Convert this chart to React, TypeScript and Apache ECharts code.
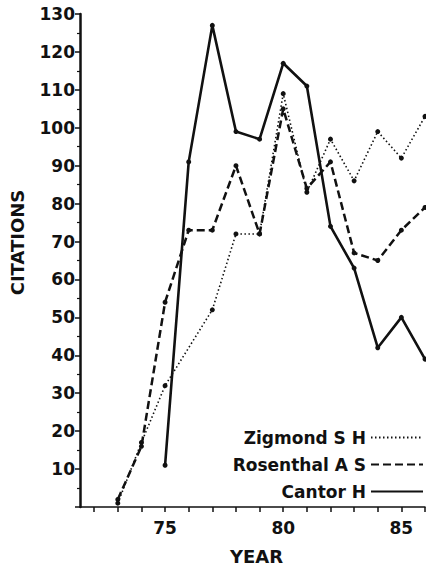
import React, { useEffect, useRef } from "react";
import * as echarts from "echarts";

const years = [73, 74, 75, 76, 77, 78, 79, 80, 81, 82, 83, 84, 85, 86];
const zigmond = [1, 17, 32, null, 52, 72, 72, 109, 83, 97, 86, 99, 92, 103];
const rosenthal = [2, 16, 54, 73, 73, 90, 72, 105, 84, 91, 67, 65, 73, 79];
const cantor = [null, null, 11, 91, 127, 99, 97, 117, 111, 74, 63, 42, 50, 39];
const xTicks = [72, 73, 74, 75, 76, 77, 78, 79, 80, 81, 82, 83, 84, 85, 86];
const xLabels = [75, 80, 85];
const seriesNames = ["Zigmond S H", "Rosenthal A S", "Cantor H"];

const FONT = "DejaVu Sans";

function pairs(vals: (number | null)[]) {
  return years.map((y, i) => [y, vals[i]]).filter((p) => p[1] !== null);
}

export default function App() {
  const ref = useRef<HTMLDivElement>(null);
  useEffect(() => {
    if (!ref.current) return;
    const chart = echarts.init(ref.current, undefined, { renderer: "svg" });
    chart.setOption({
      animation: false,
      backgroundColor: "#ffffff",
      grid: { left: 71, right: 1, top: 14, bottom: 55, containLabel: false },
      legend: {
        orient: "vertical",
        right: 2,
        top: 429,
        padding: 0,
        align: "right",
        itemWidth: 52,
        itemHeight: 12,
        itemGap: 10,
        itemStyle: { opacity: 0 },
        textStyle: { fontFamily: FONT, fontWeight: "bold", fontSize: 17, color: "#111" },
        data: seriesNames,
      },
      xAxis: {
        type: "value",
        min: 71.4,
        max: 86,
        name: "YEAR",
        nameLocation: "middle",
        nameGap: 40,
        nameTextStyle: { fontFamily: FONT, fontWeight: "bold", fontSize: 18, color: "#111", padding: [0, 0, 0, 8] },
        axisLine: { show: true, lineStyle: { color: "#111", width: 1.5 } },
        axisTick: { show: true, customValues: xTicks, length: 5, inside: false, lineStyle: { color: "#111", width: 1.5 } },
        axisLabel: {
          customValues: xLabels,
          margin: 12,
          fontFamily: FONT,
          fontWeight: "bold",
          fontSize: 17,
          color: "#111",
        },
        splitLine: { show: false },
      },
      yAxis: {
        type: "value",
        min: 0,
        max: 130,
        interval: 10,
        name: "CITATIONS",
        nameLocation: "middle",
        nameGap: 54,
        nameRotate: 90,
        nameTextStyle: { fontFamily: FONT, fontWeight: "bold", fontSize: 18, color: "#111", padding: [0, 0, 0, 36] },
        axisLine: { show: true, lineStyle: { color: "#111", width: 2.5 } },
        axisTick: { show: true, length: 5, lineStyle: { color: "#111", width: 1.5 } },
        minorTick: { show: true, splitNumber: 2, length: 3, lineStyle: { color: "#111", width: 1.2 } },
        axisLabel: {
          margin: 5,
          fontFamily: FONT,
          fontWeight: "bold",
          fontSize: 17,
          color: "#111",
          formatter: (v: number) => (v === 0 ? "" : String(v)),
        },
        splitLine: { show: false },
      },
      series: [
        {
          name: seriesNames[0],
          type: "line",
          data: pairs(zigmond),
          connectNulls: true,
          symbol: "circle",
          symbolSize: 5,
          itemStyle: { color: "#111" },
          lineStyle: { color: "#111", width: 1.6, type: [1.5, 2.5] },
        },
        {
          name: seriesNames[1],
          type: "line",
          data: pairs(rosenthal),
          symbol: "circle",
          symbolSize: 5,
          itemStyle: { color: "#111" },
          lineStyle: { color: "#111", width: 2.5, type: [8, 4] },
        },
        {
          name: seriesNames[2],
          type: "line",
          data: pairs(cantor),
          symbol: "circle",
          symbolSize: 5,
          itemStyle: { color: "#111" },
          lineStyle: { color: "#111", width: 2.6, type: "solid" },
        },
      ],
    });
    return () => chart.dispose();
  }, []);
  return <div ref={ref} style={{ position: "fixed", left: 0, top: 0, width: 426, height: 570 }} />;
}
